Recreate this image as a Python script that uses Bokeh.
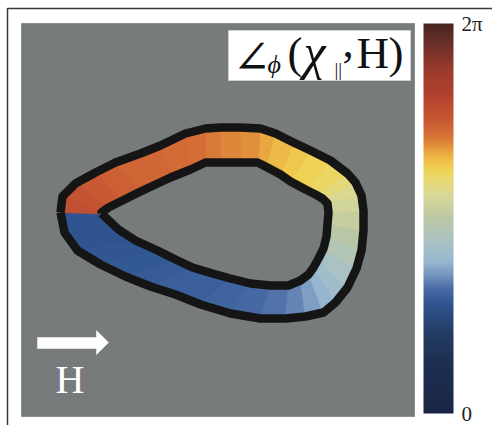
import numpy as np
from bokeh.plotting import figure
from bokeh.models import (ColumnDataSource, LinearColorMapper, ColorBar, FixedTicker,
                          CustomJSTickFormatter, Range1d)
from bokeh.core.properties import value
from bokeh.embed import file_html
from bokeh.resources import INLINE

TWO_PI = 2 * np.pi

# Domain boundary of the ring (outer wall / inner wall), paired point by point,
# starting at the branch cut on the left and running along the bottom edge.
outer_x = [60, 64, 77, 100, 125, 150, 175, 200, 230, 260, 285, 305, 323, 335, 347, 356, 361,
           363, 363, 361, 355, 347, 330, 310, 293, 275, 260, 240, 220, 205, 185, 160, 140, 115,
           95, 75, 62, 60]
outer_y = [212, 232, 250, 264, 276, 286, 294, 304, 313, 318, 318, 316, 312, 302, 287, 268, 250,
           230, 210, 195, 182, 173, 160, 150, 142, 133, 128, 127, 127, 128, 133, 145, 153, 162,
           172, 183, 196, 212]
inner_x = [101, 118, 135, 157, 175, 192, 212, 230, 250, 270, 288, 300, 308, 313, 318, 323, 326,
           327, 328, 327, 322, 315, 305, 290, 280, 265, 257, 240, 220, 205, 190, 170, 155, 138,
           122, 108, 101, 101]
inner_y = [213, 229, 240, 250, 259, 267, 273, 278, 283, 285, 285, 280, 274, 267, 258, 248, 236,
           224, 212, 203, 198, 194, 189, 181, 174, 166, 162, 162, 162, 162, 169, 177, 184, 192,
           200, 207, 212, 213]

# Angle between chi_parallel and H along the ring, as a fraction of a full turn
angle_frac = [0.28, 0.28, 0.28, 0.285, 0.29, 0.295, 0.30, 0.30, 0.31, 0.32, 0.33, 0.35, 0.38,
              0.40, 0.43, 0.46, 0.48, 0.51, 0.53, 0.56, 0.58, 0.60, 0.62, 0.63, 0.645, 0.66,
              0.68, 0.69, 0.70, 0.71, 0.72, 0.725, 0.73, 0.735, 0.745, 0.76, 0.77, 0.78]

cbar_ticks = [0.0, TWO_PI]
cbar_labels = ["0", "2π"]

# Diverging blue -> pale -> yellow -> red -> brown colour map
anchor_pos = [0.00, 0.12, 0.20, 0.25, 0.28, 0.32, 0.35, 0.39, 0.44, 0.50, 0.56, 0.60, 0.63,
              0.66, 0.69, 0.72, 0.76, 0.82, 0.89, 0.94, 1.00]
anchor_col = ["#1a2545", "#1d2e50", "#223a62", "#2a4a7c", "#2f5590", "#4a6ca6", "#6f90bc",
              "#98b8d0", "#aac2c4", "#bcc8a4", "#d8d898", "#e8d870", "#f0d050", "#eeb545",
              "#e08a3a", "#d46c36", "#c45632", "#b0402e", "#983a2c", "#70302a", "#4a2520"]


def hex_rgb(h):
    return [int(h[i:i + 2], 16) for i in (1, 3, 5)]


rgb = np.array([hex_rgb(c) for c in anchor_col], dtype=float)
grid = np.linspace(0, 1, 256)
palette = ["#%02x%02x%02x" % tuple(int(round(np.interp(t, anchor_pos, rgb[:, k]))) for k in range(3))
           for t in grid]

mapper = LinearColorMapper(palette=palette, low=0.0, high=TWO_PI)

W, H = 492, 425
p = figure(width=W, height=H, x_range=Range1d(0, W), y_range=Range1d(H, 0),
           output_backend="svg", toolbar_location=None, min_border=0,
           background_fill_color="white", border_fill_color="white")
p.axis.visible = False
p.grid.visible = False
p.outline_line_color = None

# outer frame of the figure panel
p.line([7, 7, W + 5], [H + 5, 8, 8], line_color="#3a3a3a", line_width=1.5)

# grey sample panel
p.quad(left=21, right=414, top=23, bottom=416, fill_color="#777b7c", line_color="#8a8e8f",
       line_width=1)

# ring segments coloured by angle
n = len(outer_x)
xs, ys, vals = [], [], []
for i in range(n - 1):
    xs.append([outer_x[i], outer_x[i + 1], inner_x[i + 1], inner_x[i]])
    ys.append([outer_y[i], outer_y[i + 1], inner_y[i + 1], inner_y[i]])
    vals.append(0.5 * (angle_frac[i] + angle_frac[i + 1]) * TWO_PI)
src = ColumnDataSource(dict(xs=xs, ys=ys, v=vals))
p.patches("xs", "ys", source=src,
          fill_color={"field": "v", "transform": mapper},
          line_color={"field": "v", "transform": mapper}, line_width=1)

# domain walls
p.line(outer_x, outer_y, line_color="#151515", line_width=8.5, line_join="round")
p.line(inner_x, inner_y, line_color="#151515", line_width=8.5, line_join="round")

# applied field direction
p.patch([37, 96, 96, 108, 96, 96, 37], [337, 337, 330, 342, 354, 348, 348],
        fill_color="white", line_color="white", line_width=0.5)


def txt(x, base, t, size, color="#111111", font="Liberation Serif", style="normal", ascent=0.891):
    # place text by its baseline, using the font ascent with a top anchor
    p.text(x=[x], y=[base - ascent * size], text=[t], text_font=value(font),
           text_font_size=f"{size}px", text_font_style=style, text_color=color,
           text_baseline="top", text_align="left")


txt(55, 392, "H", 40, color="white")

# title box
p.quad(left=228, right=410, top=30, bottom=80, fill_color="white", line_color="#d0d0d0",
       line_width=1)
txt(232, 72, "∠", 46, font="DejaVu Serif", ascent=0.928)
txt(267, 73, "ϕ", 26, style="italic")
txt(287, 68, "(", 45)
txt(303, 68, "χ", 50, style="italic")
txt(334, 75, "||", 19)
txt(342, 68, ",", 45)
txt(356, 68, "H", 45)
txt(388, 68, ")", 45)

# colour bar
fmt = CustomJSTickFormatter(args=dict(tick_vals=cbar_ticks, tick_text=cbar_labels), code="""
    let best = 0;
    for (let i = 0; i < tick_vals.length; i++) {
        if (Math.abs(tick_vals[i] - tick) < Math.abs(tick_vals[best] - tick)) best = i;
    }
    return tick_text[best];
""")
cb = ColorBar(color_mapper=mapper, location=(423, 12), width=30, height=390, padding=0,
              margin=0, ticker=FixedTicker(ticks=cbar_ticks), formatter=fmt,
              major_label_text_font="Liberation Serif", major_label_text_font_size="21px",
              major_label_text_color="#222222", major_tick_line_color=None,
              minor_tick_line_color=None, bar_line_color=None, border_line_color=None,
              background_fill_alpha=0, label_standoff=8)
p.add_layout(cb)

open("out.html", "w").write(file_html(p, INLINE))
